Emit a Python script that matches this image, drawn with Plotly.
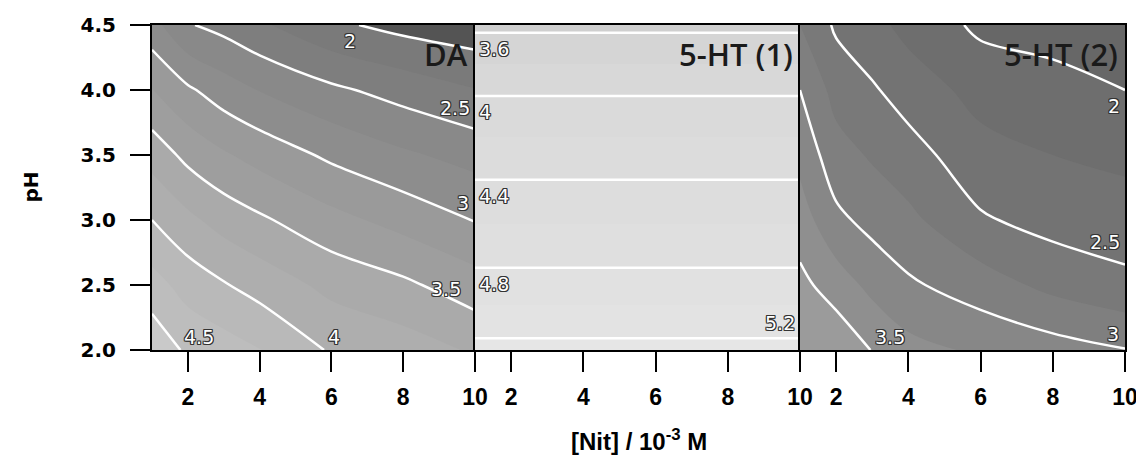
import numpy as np
import plotly.graph_objects as go

# ---------------- data ----------------
nit = [1, 2, 3, 4, 6, 8, 10]            # [Nit] / 1e-3 M
ph = [2.0, 2.5, 3.0, 3.5, 4.0, 4.5]     # pH

# rows = pH (ascending), columns = nit
da_z = [
    [4.69, 4.45, 4.36, 4.26, 3.97, 3.87, 3.72],
    [4.35, 4.15, 4.02, 3.90, 3.68, 3.55, 3.36],
    [4.00, 3.81, 3.65, 3.54, 3.33, 3.16, 2.99],
    [3.65, 3.43, 3.28, 3.16, 2.95, 2.79, 2.66],
    [3.26, 3.04, 2.87, 2.74, 2.55, 2.40, 2.26],
    [2.84, 2.52, 2.42, 2.29, 2.05, 1.92, 1.84],
]

ht1_profile = [5.27, 4.88, 4.58, 4.29, 3.97, 3.55]   # constant along [Nit]
ht1_z = [[v] * len(nit) for v in ht1_profile]

ht2_z = [
    [3.75, 3.69, 3.49, 3.33, 3.21, 3.11, 3.01],
    [3.57, 3.38, 3.18, 3.04, 2.87, 2.68, 2.56],
    [3.37, 3.06, 2.92, 2.81, 2.53, 2.41, 2.37],
    [3.18, 2.85, 2.72, 2.60, 2.34, 2.25, 2.19],
    [3.00, 2.66, 2.53, 2.39, 2.16, 2.08, 2.00],
    [2.75, 2.46, 2.33, 2.17, 1.95, 1.91, 1.82],
]

panel_names = ["DA", "5-HT (1)", "5-HT (2)"]
x_ticks = [2, 4, 6, 8, 10]
y_ticks = [2.0, 2.5, 3.0, 3.5, 4.0, 4.5]
y_ticklabels = ["2.0", "2.5", "3.0", "3.5", "4.0", "4.5"]

# ---------------- styling ----------------
OFF = 8                       # default page margin around the figure
W, H = 1144 - OFF, 463 - 2 * OFF
px_x = [(152 - OFF, 475 - OFF), (475 - OFF, 800 - OFF), (800 - OFF, 1125 - OFF)]
py = (25 - OFF, 350 - OFF)
ydom = [(H - py[1]) / H, (H - py[0]) / H]

panels = [
    dict(z=da_z,
         fill=dict(start=2.0, end=4.6, size=0.25),
         bands=["#545454", "#7a7a7a", "#7e7e7e", "#898989", "#8d8d8d", "#9a9a9a",
                "#9e9e9e", "#aaaaaa", "#aeaeae", "#b9b9b9", "#bdbdbd", "#c9c9c9"],
         lines=dict(start=2.0, end=4.6, size=0.5)),
    dict(z=ht1_z,
         fill=dict(start=3.6, end=5.25, size=0.2),
         bands=["#cfcfcf", "#d5d5d5", "#d8d8d8", "#dadada", "#dcdcdc",
                "#dddddd", "#dfdfdf", "#e1e1e1", "#e3e3e3", "#e6e6e6"],
         lines=dict(start=3.6, end=5.3, size=0.4)),
    dict(z=ht2_z,
         fill=dict(start=2.0, end=3.8, size=0.25),
         bands=["#676767", "#6e6e6e", "#737373", "#797979", "#7f7f7f",
                "#878787", "#8f8f8f", "#9b9b9b", "#a6a6a6"],
         lines=dict(start=2.0, end=3.6, size=0.5)),
]

fig = go.Figure()
for i, p in enumerate(panels):
    ax = "" if i == 0 else str(i + 1)
    n = len(p["bands"])
    cs = [[k / (n - 1), c] for k, c in enumerate(p["bands"])]
    fig.add_trace(go.Contour(
        x=nit, y=ph, z=p["z"], xaxis="x" + ax, yaxis="y" + ax,
        colorscale=cs, showscale=False,
        contours=dict(coloring="fill", showlines=False, **p["fill"]),
        line=dict(width=0, smoothing=1.0), hoverinfo="skip"))
    fig.add_trace(go.Contour(
        x=nit, y=ph, z=p["z"], xaxis="x" + ax, yaxis="y" + ax,
        showscale=False,
        contours=dict(coloring="none", showlabels=False, **p["lines"]),
        line=dict(color="white", width=2.5, smoothing=1.0), hoverinfo="skip"))


# ---------------- contour labels (positions from the data) ----------------
def cross_y(z, col, level):
    vals = [row[col] for row in z]
    return float(np.interp(level, vals[::-1], ph[::-1]))


def cross_x(z, row, level):
    vals = z[row]
    return float(np.interp(level, vals[::-1], nit[::-1]))


outline = ("-1px -1px 0 #333, 1px -1px 0 #333, -1px 1px 0 #333, 1px 1px 0 #333, "
           "0 1px 0 #333, 0 -1px 0 #333, 1px 0 0 #333, -1px 0 0 #333")
lab_font = dict(family="DejaVu Sans", size=19, color="white", shadow=outline)

# (panel, text, level, edge, dx, dy, xanchor, yanchor)
labels = [
    (0, "2", 2.0, "top", -1, -3, "right", "top"),
    (0, "2.5", 2.5, "right", -3, 8, "right", "bottom"),
    (0, "3", 3.0, "right", -4, 6, "right", "bottom"),
    (0, "3.5", 3.5, "right", -12, 8, "right", "bottom"),
    (0, "4", 4.0, "bottom", 2, 0, "left", "bottom"),
    (0, "4.5", 4.5, "bottom", 2, 0, "left", "bottom"),
    (1, "3.6", 3.6, "left", 2, -3, "left", "top"),
    (1, "4", 4.0, "left", 2, -3, "left", "top"),
    (1, "4.4", 4.4, "left", 2, -3, "left", "top"),
    (1, "4.8", 4.8, "left", 2, -3, "left", "top"),
    (1, "5.2", 5.2, "right", -3, 2, "right", "bottom"),
    (2, "2", 2.0, "right", -3, -3, "right", "top"),
    (2, "2.5", 2.5, "right", -3, 9, "right", "bottom"),
    (2, "3", 3.0, "right", -4, 2, "right", "bottom"),
    (2, "3.5", 3.5, "bottom", 3, 0, "left", "bottom"),
]

annotations = []
for pi, txt, lev, edge, dx, dy, xa, ya in labels:
    z = panels[pi]["z"]
    if edge == "right":
        x, y = nit[-1], cross_y(z, len(nit) - 1, lev)
    elif edge == "left":
        x, y = nit[0], cross_y(z, 0, lev)
    elif edge == "bottom":
        x, y = cross_x(z, 0, lev), ph[0]
    else:
        x, y = cross_x(z, len(ph) - 1, lev), ph[-1]
    ax = "" if pi == 0 else str(pi + 1)
    annotations.append(dict(x=x, y=y, xref="x" + ax, yref="y" + ax, text=txt,
                            showarrow=False, xanchor=xa, yanchor=ya,
                            xshift=dx, yshift=dy, font=lab_font))

for i, name in enumerate(panel_names):
    ax = "" if i == 0 else str(i + 1)
    annotations.append(dict(x=10, y=4.5, xref="x" + ax, yref="y" + ax, text=name,
                            showarrow=False, xanchor="right", yanchor="top",
                            xshift=-5, yshift=-6,
                            font=dict(family="Open Sans", size=31, color="#1a1a1a",
                                      weight=600)))

tick_font = dict(family="DejaVu Sans", size=20, color="black", weight="bold")
xtick_font = dict(family="Liberation Sans", size=23, color="black", weight="bold")

annotations.append(dict(x=0.5 * (px_x[0][0] + px_x[2][1]) / W, y=(H - (440 - OFF)) / H,
                        xref="paper", yref="paper", showarrow=False,
                        xanchor="center", yanchor="middle",
                        text="[Nit] / 10<sup>-3</sup> M",
                        font=dict(family="Liberation Sans", size=24, color="black",
                                  weight="bold")))
annotations.append(dict(x=(30 - OFF) / W, y=0.5 * (ydom[0] + ydom[1]),
                        xref="paper", yref="paper", showarrow=False, textangle=-90,
                        xanchor="center", yanchor="middle",
                        text="pH", font=dict(family="DejaVu Sans", size=20,
                                             color="black", weight="bold")))

layout = dict(width=W, height=H, margin=dict(l=0, r=0, t=0, b=0, pad=0, autoexpand=False),
              paper_bgcolor="white", plot_bgcolor="white", showlegend=False,
              annotations=annotations)

for i in range(3):
    ax = "" if i == 0 else str(i + 1)
    layout["xaxis" + ax] = dict(
        domain=[px_x[i][0] / W, px_x[i][1] / W], range=[1, 10], automargin=False,
        anchor="y" + ax, tickvals=x_ticks, ticktext=[str(t) for t in x_ticks],
        ticks="outside", ticklen=20, tickwidth=2, tickcolor="black",
        showline=True, linecolor="black", linewidth=2, mirror=True,
        showgrid=False, zeroline=False, tickfont=xtick_font, ticklabelstandoff=5)
    layout["yaxis" + ax] = dict(
        domain=ydom, range=[2.0, 4.5], anchor="x" + ax, automargin=False,
        tickvals=y_ticks, ticktext=y_ticklabels,
        ticks="outside" if i == 0 else "", ticklen=20, tickwidth=2, tickcolor="black",
        showticklabels=(i == 0),
        showline=True, linecolor="black", linewidth=2, mirror=True,
        showgrid=False, zeroline=False, tickfont=tick_font, ticklabelstandoff=10)

fig.update_layout(**layout)
fig.write_html("out.html")
